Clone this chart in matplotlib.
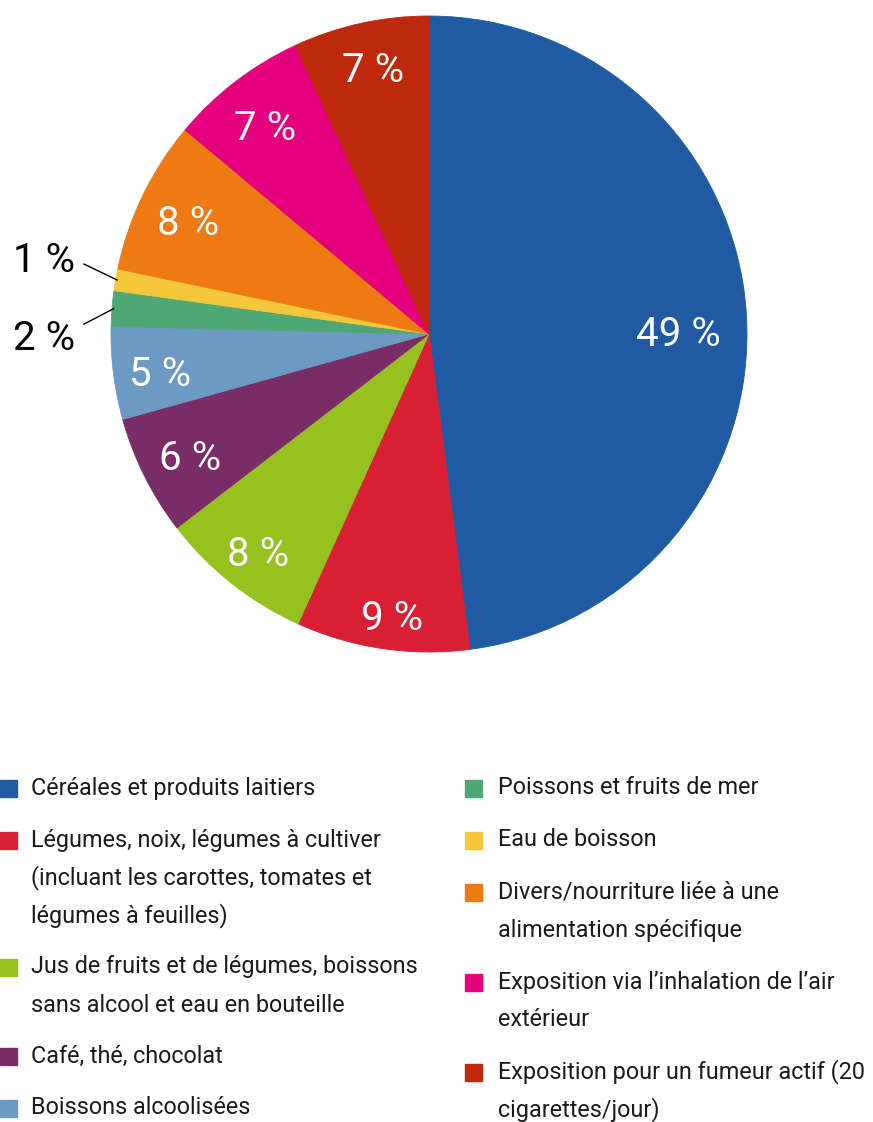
import matplotlib
matplotlib.use("Agg")
import matplotlib.pyplot as plt
import numpy as np
from matplotlib.patches import Rectangle

categories = [
    "Céréales et produits laitiers",
    "Légumes, noix, légumes à cultiver\n(incluant les carottes, tomates et\nlégumes à feuilles)",
    "Jus de fruits et de légumes, boissons\nsans alcool et eau en bouteille",
    "Café, thé, chocolat",
    "Boissons alcoolisées",
    "Poissons et fruits de mer",
    "Eau de boisson",
    "Divers/nourriture liée à une\nalimentation spécifique",
    "Exposition via l\u2019inhalation de l\u2019air\nextérieur",
    "Exposition pour un fumeur actif (20\ncigarettes/jour)",
]
values = [47.9, 8.8, 7.8, 6.1, 4.7, 1.8, 1.1, 7.8, 7.0, 6.9]
value_labels = ["49 %", "9 %", "8 %", "6 %", "5 %", "2 %", "1 %", "8 %", "7 %", "7 %"]
colors = ["#1F5AA2", "#D91F33", "#97C11F", "#7A2C66", "#6D9AC3",
          "#4FA776", "#F5C73A", "#EE7A14", "#E5007E", "#BE280C"]

W, H = 873, 1122
fig = plt.figure(figsize=(W / 100, H / 100), dpi=100)
FONT = "Roboto"

cx, cy, R = 429, 334, 318
ax = fig.add_axes([(cx - R) / W, (H - cy - R) / H, 2 * R / W, 2 * R / H])
wedges, _ = ax.pie(values, colors=colors, startangle=90, counterclock=False,
                   radius=1, wedgeprops=dict(linewidth=0.6))
for w, c in zip(wedges, colors):
    w.set_edgecolor(c)
ax.set_xlim(-1, 1)
ax.set_ylim(-1, 1)
ax.set_aspect("equal")
ax.axis("off")

# label centres (pixel positions within the figure) for in-slice labels
label_px = {0: (678, 335), 1: (392, 619), 2: (258, 554), 3: (190, 459),
            4: (160, 374), 7: (188, 224), 8: (265, 129), 9: (373, 70)}
for i, (px, py) in label_px.items():
    fig.text(px / W, (H - py) / H, value_labels[i], ha="center", va="center",
             color="white", fontsize=29, family=FONT)

# outside labels for small slices
outside = {5: ((-1.085, 0.031), (44, 339)), 6: ((-1.085, 0.22), (44, 260))}
for i, ((lx, ly), (px, py)) in outside.items():
    w = wedges[i]
    mid = np.deg2rad((w.theta1 + w.theta2) / 2)
    ax.plot([np.cos(mid) * 0.995, lx], [np.sin(mid) * 0.995, ly], color="black",
            lw=1.0, clip_on=False)
    fig.text(px / W, (H - py) / H, value_labels[i], ha="center", va="center",
             color="black", fontsize=29, family=FONT)

# legend
left_rows = [788, 840, 967, 1056, 1108]
right_rows = [788, 840, 892, 982, 1072]
line_h = 38
positions = []
for y in left_rows:
    positions.append((0, 31, y))
for y in right_rows:
    positions.append((465, 498, y))
for (sx, tx, y), cat, col in zip(positions, categories, colors):
    fig.patches.append(Rectangle((sx / W, (H - y - 9) / H), 17 / W, 17 / H,
                                 transform=fig.transFigure, color=col))
    for k, line in enumerate(cat.split("\n")):
        fig.text(tx / W, (H - (y + k * line_h)) / H, line, ha="left", va="center",
                 fontsize=16.8, family=FONT, color="#1a1a1a")

fig.savefig("out.png", dpi=100)
